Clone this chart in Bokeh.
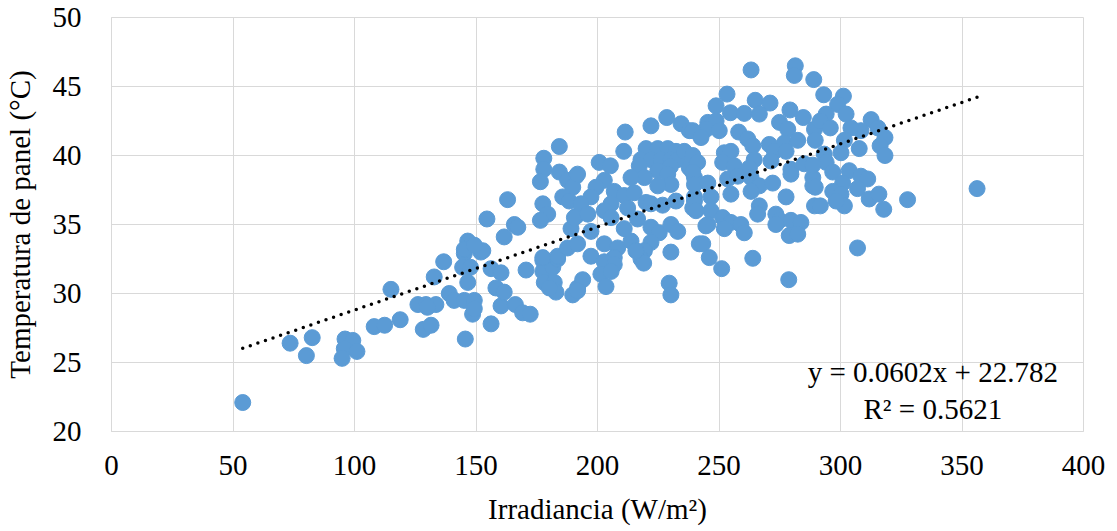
from bokeh.plotting import figure
from bokeh.models import Label, FixedTicker
from bokeh.embed import file_html
from bokeh.resources import INLINE

irradiance = [54, 73.5, 82.6, 80.2, 96.1, 99.3, 95.8, 101, 94.9, 108.1, 112.4, 118.8, 115, 126.1, 129.4, 133.5,
              128.3, 131.5, 132.8, 136.7, 145.2, 152, 144.5, 147.7, 146.6, 139, 130, 141, 145.2, 149.3, 148.6,
              149.3, 145.6, 156.2, 160.3, 166.2, 169.2, 172.3, 158.2, 161.6, 156.2, 160.3, 170.6, 177.5, 177.5,
              181.6, 183.6, 178.1, 182.2, 182.9, 180.2, 189.8, 191.8, 184.3, 177.9, 177.9, 176.5, 184.3, 187.7,
              191.2, 189.8, 185.7, 188.4, 191.2, 189.1, 177.5, 179.5, 176.5, 163, 154.5, 165.8, 167.2, 161.6,
              146.6, 145.2, 152.8, 149.3, 177.5, 183.6, 187.7, 191.8,
              228.5, 222, 234.4, 237.8, 211.4, 210.8, 220, 224.8, 228.9, 232.3, 217.9, 222, 226.1, 230.2, 233,
              217.2, 230, 224.8, 219.3, 228.9, 230.2, 224.8, 213.8, 200.7, 205.3, 191.8, 202.8, 199.4, 197.3,
              206.9, 211, 215.1, 220, 212.4, 205.6, 193.2, 190.5, 196, 202.8, 216.5, 222, 225.4, 222, 226.8,
              232.3, 230.2, 233, 239.2, 239.9, 237.8, 239.9, 235.7, 205.6, 202.8, 208.3, 213.8, 222, 219.3,
              197.3, 206.9, 217.9, 230.2, 241.9, 211, 197.3,
              202.8, 206.9, 201.4, 205.6, 203.5, 193.9, 191.8, 219, 215.8, 229.5, 230.2,
              263.2, 281.4, 281, 289, 253.3, 248.8, 264.9, 271, 254.7, 260.4, 266.6, 279.2, 284.7, 289.3, 274.9,
              278.3, 245.4, 248.8, 244.7, 250.1, 239.2, 242.6, 258.1, 261.8, 263.9, 270.7, 276.9, 282.4, 272.8,
              277.6, 239.2, 252.2, 254.9, 241.2, 251.5, 256.3, 264.5, 262.5, 271.4, 279.6, 285.1, 288.6, 288.6,
              239.2, 239.9, 245.4, 253.6, 257.7, 263.2, 266.6, 272.1, 279.6, 277.6, 239.9, 246.7, 254.9, 263.2,
              266.6, 265.9, 273.4, 274.9, 279.6, 283.7, 289.3, 246.7, 251.5, 254.9, 245.4, 259, 240.5,
              243.3, 246, 251.1, 263.9, 278.7, 244.6, 252.2, 260.4, 273.4, 278.9, 282.4,
              293.1, 301.2, 298.8, 302.3, 294.1, 291.7, 295.8, 289.6, 312.6, 315.4, 308.4, 304.3, 318.3, 316.3,
              318.3, 307.7, 301.6, 300.2, 293.3, 294.1, 296.8, 288.6, 289.6, 303.6, 308.4, 311.2, 300.9, 296.8,
              300.2, 307, 311.8, 315.8, 291.7, 301.6, 317.8, 327.6, 356.2, 298.2, 307]

temperature = [22.1, 26.4, 26.8, 25.5, 26.7, 26.6, 26.0, 25.8, 25.3, 27.6, 27.7, 28.1, 30.3, 29.2, 29.2, 29.2,
               27.4, 27.7, 31.2, 32.3, 32.9, 33.0, 31.9, 31.9, 30.8, 30.0, 29.0, 29.5, 29.5, 29.5, 28.5,
               28.9, 26.7, 27.8, 29.1, 29.2, 28.6, 28.5, 30.4, 30.1, 31.8, 31.5, 31.7, 32.4, 31.6,
               31.9, 32.5, 30.8, 30.8, 30.1, 30.4, 29.9, 30.4, 40.65, 39.8, 39.0, 38.1, 38.8, 38.2,
               38.5, 37.7, 37.0, 36.7, 35.6, 34.7, 36.5, 35.75, 35.3, 36.8, 35.4, 35.0, 34.8, 34.1,
               33.8, 33.2, 33.1, 33.5, 32.6, 32.7, 33.3, 33.6,
               42.75, 42.15, 42.3, 41.8, 41.7, 40.3, 40.5, 40.5, 40.5, 40.3, 39.7, 39.7, 39.7, 39.7, 39.7,
               39.25, 39.2, 38.9, 38.4, 38.65, 37.9, 37.8, 38.4, 39.5, 39.25, 38.65, 38.2, 37.7, 37.0,
               37.4, 37.1, 37.3, 36.6, 36.2, 36.5, 36.5, 35.5, 35.75, 36.0, 35.4, 34.8, 34.4, 36.5, 36.4,
               36.7, 35.0, 34.5, 36.2, 37.0, 39.1, 38.4, 40.3, 35.5, 33.6, 33.3, 33.8, 33.7, 33.1,
               32.7, 32.6, 32.5, 33.0, 33.6, 34.7, 34.5,
               32.3, 32.1, 31.4, 31.6, 30.5, 31.0, 30.2, 32.2, 33.1, 30.75, 29.9,
               46.2, 46.5, 45.8, 45.5, 44.45, 43.6, 44.0, 43.8, 43.1, 43.05, 43.0, 43.3, 42.75, 41.9, 42.4,
               41.9, 42.4, 42.5, 41.9, 41.8, 41.8, 41.3, 41.7, 41.2, 40.7, 40.8, 40.9, 41.1, 40.3,
               40.3, 40.0, 40.2, 40.3, 39.5, 39.5, 39.25, 39.7, 39.1, 39.6, 39.0, 39.4, 38.4, 37.8,
               38.8, 37.9, 38.0, 38.3, 38.5, 38.4, 37.8, 38.0, 38.65, 37.0, 36.7, 37.0, 37.2, 37.4,
               36.35, 35.75, 35.75, 35.3, 35.3, 35.15, 36.35, 36.0, 35.5, 35.15, 35.0, 35.0, 36.0,
               33.6, 32.6, 31.8, 32.55, 31.0, 34.9, 34.7, 34.4, 35.0, 34.2, 34.3,
               44.4, 44.3, 43.7, 43.0, 43.0, 42.5, 42.0, 41.1, 42.6, 42.0, 41.8, 42.0, 41.3, 40.7,
               40.0, 40.5, 41.1, 40.2, 40.1, 39.5, 38.8, 39.3, 37.7, 38.9, 38.5, 38.3, 38.0, 37.4,
               37.2, 37.6, 36.85, 37.2, 36.35, 36.35, 36.1, 36.8, 37.6, 36.7, 33.3]

slope = 0.0602
intercept = 22.782
r_squared = 0.5621

x_ticks = [0, 50, 100, 150, 200, 250, 300, 350, 400]
y_ticks = [20, 25, 30, 35, 40, 45, 50]

FONT = "Liberation Serif"
GRID = "#d9d9d9"

p = figure(frame_width=972, frame_height=414, x_range=(0, 400), y_range=(20, 50),
           output_backend="svg", toolbar_location=None,
           min_border_left=110, min_border_right=27, min_border_top=17, min_border_bottom=98)

p.scatter(irradiance, temperature, size=16, marker="circle",
          fill_color="#5B9BD5", line_color="#5B9BD5")

tx = [min(irradiance), max(irradiance)]
ty = [slope * v + intercept for v in tx]
p.line(tx, ty, line_color="black", line_width=3.5, line_dash="0 8", line_cap="round")

p.add_layout(Label(x=338, y=24.28, text=f"y = {slope}x + {intercept}", text_align="center",
                   text_baseline="middle", text_font=FONT, text_font_size="29px", text_color="black"))
p.add_layout(Label(x=338, y=21.64, text=f"R² = {r_squared}", text_align="center",
                   text_baseline="middle", text_font=FONT, text_font_size="29px", text_color="black"))

p.xaxis.ticker = FixedTicker(ticks=x_ticks)
p.yaxis.ticker = FixedTicker(ticks=y_ticks)
for ax in (p.xaxis, p.yaxis):
    ax.major_tick_line_color = None
    ax.minor_tick_line_color = None
    ax.major_tick_out = 0
    ax.major_tick_in = 0
    ax.axis_line_color = GRID
    ax.major_label_text_font = FONT
    ax.major_label_text_font_size = "29px"
    ax.major_label_text_color = "black"
    ax.axis_label_text_font = FONT
    ax.axis_label_text_font_size = "29px"
    ax.axis_label_text_font_style = "normal"
    ax.axis_label_text_color = "black"

p.xaxis.axis_label = "Irradiancia (W/m²)"
p.yaxis.axis_label = "Temperatura de panel (°C)"
p.xaxis.major_label_standoff = 24
p.xaxis.axis_label_standoff = 15
p.yaxis.major_label_standoff = 30
p.yaxis.axis_label_standoff = 14

p.xgrid.grid_line_color = GRID
p.ygrid.grid_line_color = GRID
p.outline_line_color = GRID
p.background_fill_color = "white"
p.border_fill_color = "white"

open("out.html", "w").write(file_html(p, INLINE))
